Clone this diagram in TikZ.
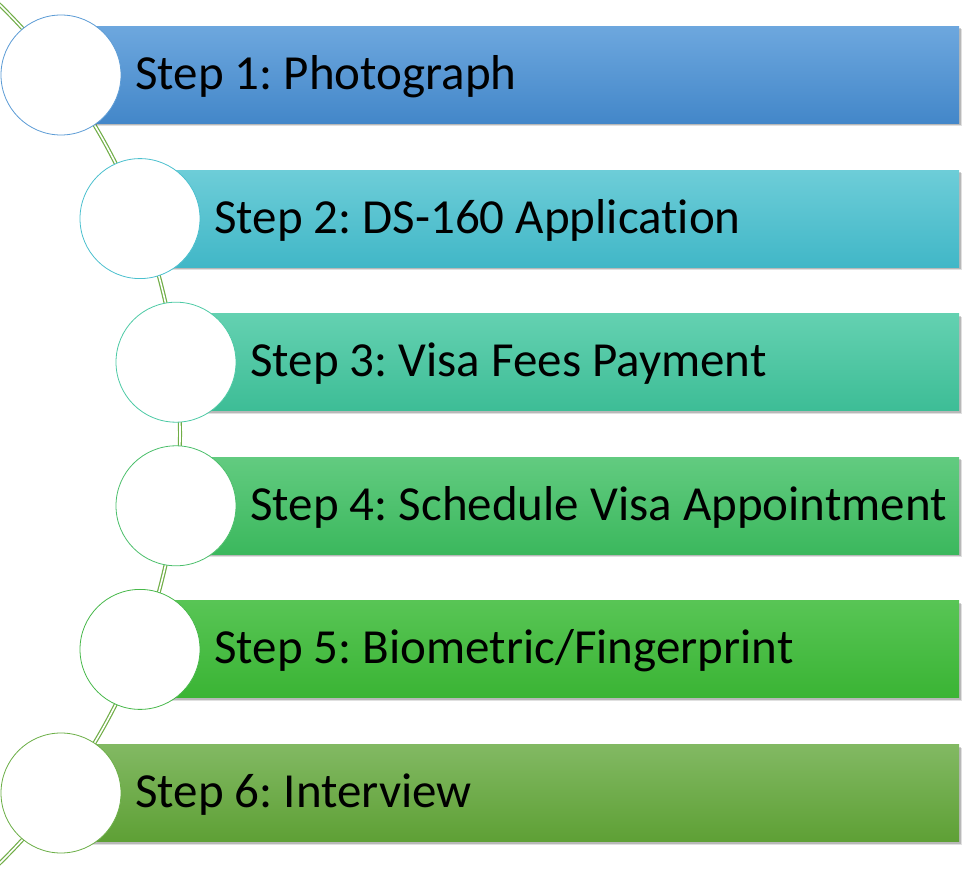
\documentclass[tikz,border=0pt]{standalone}
\usepackage{fontspec}
\setmainfont[Ligatures=NoCommon]{Carlito}
\usetikzlibrary{shadows}
\definecolor{b1t}{HTML}{6DA7DE}\definecolor{b1b}{HTML}{4387C9}\definecolor{b1l}{HTML}{5B9BD5}
\definecolor{b2t}{HTML}{6DCDD8}\definecolor{b2b}{HTML}{41B7C7}\definecolor{b2l}{HTML}{4BC0CE}
\definecolor{b3t}{HTML}{64D1B1}\definecolor{b3b}{HTML}{3DBD96}\definecolor{b3l}{HTML}{4DCAA5}
\definecolor{b4t}{HTML}{62CB80}\definecolor{b4b}{HTML}{3BB85D}\definecolor{b4l}{HTML}{4BBF6B}
\definecolor{b5t}{HTML}{58C555}\definecolor{b5b}{HTML}{3AB434}\definecolor{b5l}{HTML}{47B84A}
\definecolor{b6t}{HTML}{82B963}\definecolor{b6b}{HTML}{5EA035}\definecolor{b6l}{HTML}{6AAE45}
\definecolor{arcgreen}{HTML}{70AD47}
\begin{document}
\frenchspacing
\begin{tikzpicture}[x=1pt,y=1pt,
  bar/.style={rectangle, inner sep=0pt, minimum height=97pt, anchor=west,
    drop shadow={shadow xshift=2.5pt, shadow yshift=-3pt, fill=black, opacity=0.12},
    drop shadow={shadow xshift=1.5pt, shadow yshift=-2pt, fill=black, opacity=0.18}},
  stepcirc/.style={circle, minimum size=120pt, inner sep=0pt, fill=white, line width=0.8pt},
  steptext/.style={anchor=base west, inner sep=0pt, text=black, font=\fontsize{49}{58}\selectfont},
  pathline/.style={draw=arcgreen, line width=1.2pt, double=white, double distance=1.6pt}]
\clip (0,0) rectangle (966,868);
% connecting arc
\draw[pathline] (-421,434) ++(47:601) arc[start angle=47, end angle=-47, radius=601];
% bars
\node[bar, minimum width=898pt, top color=b1t, bottom color=b1b] (b1) at (61,793) {};
\node[bar, minimum width=819pt, top color=b2t, bottom color=b2b] (b2) at (140,649.4) {};
\node[bar, minimum width=783pt, top color=b3t, bottom color=b3b] (b3) at (176,505.8) {};
\node[bar, minimum width=783pt, top color=b4t, bottom color=b4b] (b4) at (176,362.2) {};
\node[bar, minimum width=819pt, top color=b5t, bottom color=b5b] (b5) at (140,218.6) {};
\node[bar, minimum width=898pt, top color=b6t, bottom color=b6b] (b6) at (61,75) {};
% circles
\node[stepcirc, draw=b1l] (c1) at (61,793) {};
\node[stepcirc, draw=b2l] (c2) at (140,649.4) {};
\node[stepcirc, draw=b3l] (c3) at (176,505.8) {};
\node[stepcirc, draw=b4l] (c4) at (176,362.2) {};
\node[stepcirc, draw=b5l] (c5) at (140,218.6) {};
\node[stepcirc, draw=b6l] (c6) at (61,75) {};
% texts
\node[steptext] (t1) at (135,778.5) {Step 1: Photograph};
\node[steptext] (t2) at (214,634.9) {Step 2: DS-160 Application};
\node[steptext] (t3) at (250,491.3) {Step 3: Visa Fees Payment};
\node[steptext] (t4) at (250,347.7) {Step 4: Schedule Visa Appointment};
\node[steptext] (t5) at (214,204.1) {Step 5: Biometric/Fingerprint};
\node[steptext] (t6) at (135,60.5) {Step 6: Interview};
\end{tikzpicture}
\end{document}
